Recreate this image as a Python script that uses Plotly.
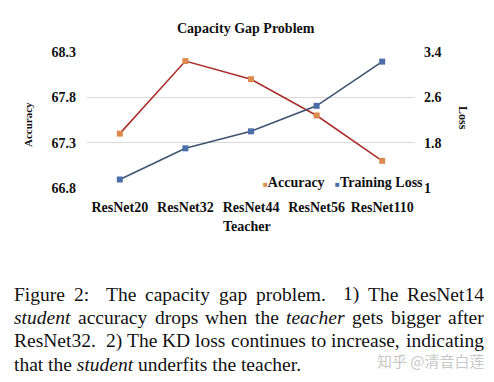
import plotly.graph_objects as go

teachers = ["ResNet20", "ResNet32", "ResNet44", "ResNet56", "ResNet110"]
accuracy = [67.4, 68.2, 68.0, 67.6, 67.1]
training_loss = [1.15, 1.7, 2.0, 2.45, 3.23]
acc_ticks = [66.8, 67.3, 67.8, 68.3]
loss_ticks = [1, 1.8, 2.6, 3.4]
caption_lines = [
    "Figure 2: The capacity gap problem. 1) The ResNet14",
    "_student_ accuracy drops when the _teacher_ gets bigger after",
    "ResNet32. 2) The KD loss continues to increase, indicating",
    "that the _student_ underfits the teacher.",
]

SERIF = "Liberation Serif, Times New Roman, serif"
L, R, T, B = 87, 415, 52, 188


def px(x):
    return (x - L) / (R - L)


def py(y):
    return (B - y) / (B - T)


fig = go.Figure()
fig.add_trace(go.Scatter(
    x=teachers, y=accuracy, mode="lines+markers", name="Accuracy",
    line=dict(color="#ab302c", width=1.6),
    marker=dict(symbol="square", size=6, color="#dd8a4e"),
    yaxis="y", showlegend=False))
fig.add_trace(go.Scatter(
    x=teachers, y=training_loss, mode="lines+markers", name="Training Loss",
    line=dict(color="#3f5472", width=1.6),
    marker=dict(symbol="square", size=6, color="#4b6ea8"),
    yaxis="y2", showlegend=False))

tickfont = dict(family=SERIF, size=14, color="#111")
fig.update_layout(
    width=494, height=382,
    margin=dict(l=L, r=494 - R, t=T, b=382 - B),
    paper_bgcolor="white", plot_bgcolor="white",
    xaxis=dict(type="category", range=[-0.5, 4.5], showgrid=False,
               showline=False, zeroline=False, ticks="",
               tickvals=teachers, ticktext=[f"<b>{t}</b>" for t in teachers],
               tickfont=tickfont, ticklabelstandoff=9),
    yaxis=dict(range=[66.8, 68.3], tickvals=acc_ticks,
               ticktext=[f"<b>{v:.1f}</b>" for v in acc_ticks],
               showgrid=True, gridcolor="#d9d9d9", gridwidth=1,
               zeroline=False, showline=False, ticks="",
               tickfont=tickfont, ticklabelstandoff=10),
    yaxis2=dict(range=[1, 3.4], tickvals=loss_ticks,
                ticktext=["<b>1</b>", "<b>1.8</b>", "<b>2.6</b>", "<b>3.4</b>"],
                overlaying="y", side="right", showgrid=False,
                zeroline=False, showline=False, ticks="",
                tickfont=tickfont, ticklabelstandoff=8),
    showlegend=False,
)


def add_text(text, x, y, size, xanchor="center", angle=0, color="#111", family=SERIF):
    fig.add_annotation(text=text, xref="paper", yref="paper",
                       x=px(x), y=py(y), textangle=angle,
                       xanchor=xanchor, yanchor="middle", showarrow=False,
                       font=dict(family=family, size=size, color=color))


add_text("<b>Capacity Gap Problem</b>", 246, 29, 14)
add_text("<b>Teacher</b>", 247, 226, 14)
add_text("<b>Accuracy</b>", 28, 125, 11, angle=-90)
add_text("<b>Loss</b>", 463, 118, 12, angle=90)
add_text('<span style="color:#dd8a4e;font-size:8px">■</span><b>Accuracy</b>   '
         '<span style="color:#4b6ea8;font-size:8px">■</span><b>Training Loss</b>',
         261, 182, 14, xanchor="left")

# ---- caption (justified like the LaTeX original) ----
ROMAN = {" ": 250, "!": 333, "(": 333, ")": 333, ",": 250, "-": 333, ".": 250,
         ":": 278, "@": 921, "A": 722, "B": 667, "C": 667, "D": 722, "E": 611,
         "F": 556, "G": 722, "H": 722, "I": 333, "J": 389, "K": 722, "L": 611,
         "M": 889, "N": 722, "O": 722, "P": 556, "Q": 722, "R": 667, "S": 556,
         "T": 611, "U": 722, "V": 722, "W": 944, "X": 722, "Y": 722, "Z": 611,
         "a": 444, "b": 500, "c": 444, "d": 500, "e": 444, "f": 333, "g": 500,
         "h": 500, "i": 278, "j": 278, "k": 500, "l": 278, "m": 778, "n": 500,
         "o": 500, "p": 500, "q": 500, "r": 333, "s": 389, "t": 278, "u": 500,
         "v": 500, "w": 722, "x": 500, "y": 500, "z": 444}
ITALIC = dict(ROMAN, a=500, f=278, k=444, m=722, r=389, v=444, w=667, x=444,
              y=444, z=389)
for d in "0123456789":
    ROMAN[d] = 500
    ITALIC[d] = 500

CAP_SIZE = 19.5
CAP_LEFT, CAP_RIGHT = 12, 482


def word_width(w, italic):
    tbl = ITALIC if italic else ROMAN
    return sum(tbl.get(c, 500) for c in w) / 1000 * CAP_SIZE


for i, line in enumerate(caption_lines):
    yline = 294 + i * 23.4
    words = line.split(" ")
    items = []
    for w in words:
        it = w.startswith("_")
        clean = w.replace("_", "")
        items.append((clean, it, word_width(clean, it)))
    if i == len(caption_lines) - 1:
        html = " ".join(f"<i>{c}</i>" if it else c for c, it, _ in items)
        add_text(html, CAP_LEFT, yline, CAP_SIZE, xanchor="left")
        continue
    weights = []
    for c, _, _ in items[:-1]:
        if c.endswith(".") or c.endswith(":"):
            weights.append(2.0)
        elif c.endswith(","):
            weights.append(1.3)
        else:
            weights.append(1.0)
    total_w = sum(w for _, _, w in items)
    unit = (CAP_RIGHT - CAP_LEFT - total_w) / sum(weights)
    x = CAP_LEFT
    for k, (c, it, w) in enumerate(items):
        add_text(f"<i>{c}</i>" if it else c, x, yline, CAP_SIZE, xanchor="left")
        if k < len(weights):
            x += w + weights[k] * unit

add_text("知乎 @清音白莲", 375, 360, 15, xanchor="left", color="#c8c8c8",
         family="Noto Sans CJK SC")

fig.write_html("out.html")
